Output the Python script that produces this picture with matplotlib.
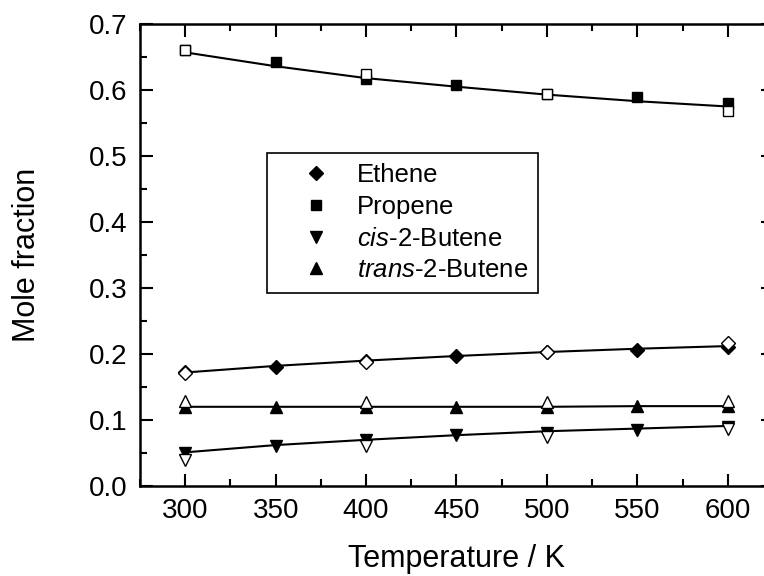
import matplotlib.pyplot as plt
from matplotlib.ticker import MultipleLocator

plt.rcParams['font.family'] = ['Liberation Sans', 'DejaVu Sans']
plt.rcParams['mathtext.fontset'] = 'custom'
plt.rcParams['mathtext.rm'] = 'Liberation Sans'
plt.rcParams['mathtext.it'] = 'Liberation Sans:italic'

# Temperatures (K)
temp = [300, 350, 400, 450, 500, 550, 600]
temp_open = [300, 400, 500, 600]

# Filled symbols (one set of results)
ethene = [0.172, 0.181, 0.190, 0.197, 0.203, 0.206, 0.210]
propene = [0.660, 0.642, 0.617, 0.608, 0.594, 0.590, 0.580]
cis_butene = [0.050, 0.060, 0.070, 0.077, 0.081, 0.085, 0.090]
trans_butene = [0.119, 0.119, 0.119, 0.120, 0.120, 0.121, 0.121]

# Open symbols (second set)
ethene_open = [0.171, 0.188, 0.203, 0.217]
propene_open = [0.660, 0.625, 0.594, 0.568]
cis_butene_open = [0.040, 0.060, 0.074, 0.087]
trans_butene_open = [0.129, 0.128, 0.128, 0.129]

# Fitted curves
ethene_fit = [0.172, 0.182, 0.190, 0.197, 0.203, 0.208, 0.212]
propene_fit = [0.657, 0.636, 0.618, 0.605, 0.593, 0.583, 0.575]
cis_butene_fit = [0.051, 0.062, 0.070, 0.077, 0.083, 0.087, 0.091]
trans_butene_fit = [0.120, 0.120, 0.120, 0.120, 0.120, 0.121, 0.121]

fig = plt.figure(figsize=(7.64, 5.76), dpi=100)
ax = fig.add_axes([140 / 764, 1 - 486 / 576, 633 / 764, 462 / 576])

series = [
    (ethene, ethene_open, ethene_fit, 'D', 7, 'Ethene'),
    (propene, propene_open, propene_fit, 's', 7, 'Propene'),
    (cis_butene, cis_butene_open, cis_butene_fit, 'v', 8.5, '$\\it{cis}$-2-Butene'),
    (trans_butene, trans_butene_open, trans_butene_fit, '^', 8.5, '$\\it{trans}$-2-Butene'),
]

handles = []
for filled, opened, fit, mk, ms, label in series:
    ax.plot(temp, fit, color='black', linewidth=1.5, zorder=2)
    h, = ax.plot(temp, filled, linestyle='none', marker=mk, markersize=ms,
                 color='black', zorder=3, label=label)
    ax.plot(temp_open, opened, linestyle='none', marker=mk, markersize=ms,
            markerfacecolor='white', markeredgecolor='black', markeredgewidth=1,
            zorder=4)
    handles.append(h)

ax.set_xlim(275, 625)
ax.set_ylim(0, 0.7)
ax.xaxis.set_major_locator(MultipleLocator(50))
ax.xaxis.set_minor_locator(MultipleLocator(25))
ax.yaxis.set_major_locator(MultipleLocator(0.1))
ax.yaxis.set_minor_locator(MultipleLocator(0.05))
ax.yaxis.set_major_formatter(plt.FuncFormatter(lambda y, loc: f"{y:.1f}"))

ax.tick_params(which='both', direction='in', top=True, right=True, width=1.5)
ax.tick_params(which='major', length=9, labelsize=20, pad=9)
ax.tick_params(which='minor', length=5)
for s in ax.spines.values():
    s.set_linewidth(1.8)

ax.set_xlabel('Temperature / K', fontsize=22, labelpad=14)
ax.set_ylabel('Mole fraction', fontsize=22, labelpad=34)

leg = ax.legend(handles=handles, loc='upper left', bbox_to_anchor=(0.2006, 0.7208),
                borderaxespad=0, fontsize=18.5, fancybox=False, edgecolor='black',
                framealpha=1, handletextpad=0.1, labelspacing=0.3,
                borderpad=0.4, handlelength=3.0)
leg.get_frame().set_linewidth(1.2)

plt.savefig('out.png', dpi=100)
